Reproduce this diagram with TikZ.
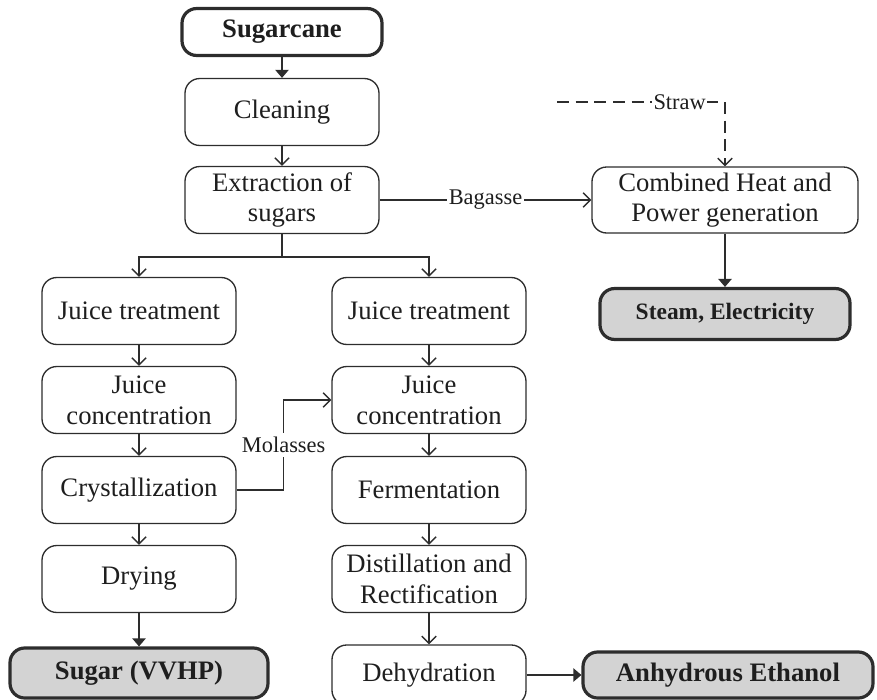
\documentclass[tikz,border=0pt]{standalone}
\usepackage{fontspec}
\setmainfont{Liberation Serif}
\usetikzlibrary{arrows.meta}
\definecolor{caneink}{RGB}{30,30,30}
\definecolor{caneline}{RGB}{45,45,45}
\definecolor{caneproduct}{RGB}{211,211,211}

\begin{document}
\begin{tikzpicture}[
  x=0.375pt, y=-0.375pt,
  font=\fontsize{10}{11.5}\selectfont,
  stepbox/.style={draw=caneline, rounded corners=5.5pt, align=center,
                  text=caneink, fill=white, line width=0.5pt, inner sep=0pt,
                  minimum width=72.75pt, minimum height=25.1pt},
  prodbox/.style={draw=caneline, rounded corners=5.5pt, align=center,
                  text=caneink, fill=caneproduct, line width=1.2pt, inner sep=0pt,
                  font=\fontsize{10}{11.5}\selectfont\bfseries},
  lbl/.style={fill=white, text=caneink, inner sep=0.6pt,
              font=\fontsize{8.4}{10}\selectfont},
  flow/.style={-{Straight Barb[length=2.7pt,width=5.4pt]}, line width=0.5pt, color=caneline},
  flowfill/.style={-{Triangle[length=3pt,width=5pt]}, line width=0.5pt, color=caneline}
]
\useasboundingbox (0,0) rectangle (877,700);
\node[prodbox, fill=white, minimum width=75pt, minimum height=17.6pt] (cane) at (282,32) {Sugarcane};
\node[stepbox] (clean) at (282,112) {Cleaning};
\node[stepbox] (extr)  at (282,200) {Extraction of\\sugars};
\node[stepbox, minimum width=99.75pt, minimum height=24.75pt] (chp) at (725,200) {Combined Heat and\\Power generation};
\node[prodbox, minimum width=93.75pt, minimum height=19.1pt,
      font=\fontsize{8.8}{10}\selectfont\bfseries] (steam) at (725,314) {Steam, Electricity};
\node[stepbox] (jtA)   at (139,311) {Juice treatment};
\node[stepbox] (jcA)   at (139,400) {Juice\\concentration};
\node[stepbox] (cryst) at (139,490) {Crystallization};
\node[stepbox] (dry)   at (139,579) {Drying};
\node[prodbox, minimum width=96.75pt, minimum height=18.75pt] (sugar) at (139,673) {Sugar (VVHP)};
\node[stepbox] (jtB)   at (429,311) {Juice treatment};
\node[stepbox] (jcB)   at (429,400) {Juice\\concentration};
\node[stepbox] (ferm)  at (429,490) {Fermentation};
\node[stepbox] (dist)  at (429,579) {Distillation and\\Rectification};
\node[stepbox, minimum height=22.5pt] (dehyd) at (429,675) {Dehydration};
\node[prodbox, minimum width=108.75pt, minimum height=17.25pt] (etoh) at (728,675) {Anhydrous Ethanol};
\coordinate (split) at (282,257);
\coordinate (strawin) at (557,102);
\draw[flowfill] (cane) -- (clean);
\draw[flow] (clean) -- (extr);
\draw[line width=0.5pt, color=caneline] (extr.south) -- (split);
\draw[flow] (split) -| (jtA.north);
\draw[flow] (split) -| (jtB.north);
\draw[flow] (extr.east) -- node[lbl] {Bagasse} (chp.west);
\draw[flow, dash pattern=on 4.5pt off 2.5pt] (strawin) -- node[lbl, pos=0.73] {Straw} (chp.north |- strawin) -- (chp.north);
\draw[flowfill] (chp) -- (steam);
\draw[flow] (jtA) -- (jcA);
\draw[flow] (jcA) -- (cryst);
\draw[flow] (cryst) -- (dry);
\draw[flowfill] (dry) -- (sugar);
\draw[flow] (cryst.east) -- ++(47,0) |- node[lbl, pos=0.25, inner sep=1.5pt] {Molasses} (jcB.west);
\draw[flow] (jtB) -- (jcB);
\draw[flow] (jcB) -- (ferm);
\draw[flow] (ferm) -- (dist);
\draw[flow] (dist) -- (dehyd);
\draw[flowfill] (dehyd) -- (etoh);
\end{tikzpicture}
\end{document}
